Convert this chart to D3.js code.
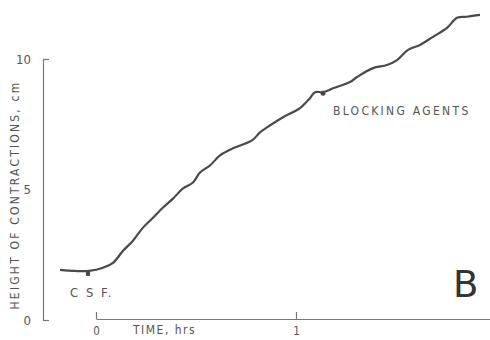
<!DOCTYPE html>
<html><head><meta charset="utf-8">
<script src="https://cdn.jsdelivr.net/npm/d3@7"></script>
<style>
body{margin:0;background:#fff;}
text{font-family:"Liberation Sans Narrow","DejaVu Sans Condensed","Liberation Sans",sans-serif;fill:#555;}
</style></head>
<body><svg id="c" width="490" height="340"></svg>
<script>
// time (hrs)
const times = [-0.18,-0.105,-0.035,0.035,0.085,0.135,0.185,0.235,0.285,0.335,0.385,0.435,0.485,0.52,0.57,0.62,0.685,0.78,0.82,0.855,0.935,1.02,1.07,1.095,1.135,1.185,1.27,1.305,1.385,1.455,1.505,1.56,1.62,1.685,1.755,1.805,1.855,1.92];
// height of contractions (cm)
const heights = [1.92,1.88,1.88,2.0,2.19,2.65,3.04,3.54,3.92,4.31,4.65,5.04,5.27,5.65,5.92,6.31,6.58,6.88,7.19,7.38,7.77,8.12,8.5,8.73,8.73,8.88,9.12,9.31,9.65,9.77,9.96,10.35,10.54,10.85,11.19,11.58,11.62,11.69];
const yTicks = [0,5,10];
const xTicks = [0,1,2];
const markers = [{t:-0.04,label:"C S F."},{t:1.135,label:"BLOCKING AGENTS"}];

const svg = d3.select("#c");
const x = d3.scaleLinear().domain([0,2]).range([96,496]);
const y = d3.scaleLinear().domain([0,10]).range([320,59]);
const ink = "#4a4a4a";

// y axis
const ya = svg.append("g").attr("transform","translate(43,0)")
  .call(d3.axisLeft(y).tickValues(yTicks).tickSizeInner(-6).tickSizeOuter(0).tickPadding(12).tickFormat(d3.format("d")));
ya.select(".domain").attr("stroke","#777").attr("stroke-width",1.2);
ya.selectAll(".tick line").attr("stroke","#777").attr("stroke-width",1.2)
  .filter(d=>d===5).remove();
ya.selectAll(".tick text").attr("font-size",13).style("fill","#555");

// x axis
const xa = svg.append("g").attr("transform","translate(0,319)")
  .call(d3.axisBottom(x).tickValues(xTicks).tickSizeInner(-7).tickSizeOuter(0).tickPadding(8).tickFormat(d3.format("d")));
xa.select(".domain").attr("stroke","#777").attr("stroke-width",1.2);
xa.selectAll(".tick line").attr("stroke","#777").attr("stroke-width",1.2);
xa.selectAll(".tick text").attr("font-size",11.5).style("fill","#555");

// axis titles
svg.append("text").attr("x",133).attr("y",334).attr("font-size",12)
  .attr("letter-spacing",1.5).text("TIME, hrs");
svg.append("text").attr("transform","translate(19,195) rotate(-90)")
  .attr("text-anchor","middle").attr("font-size",12).attr("letter-spacing",2.2)
  .text("HEIGHT OF CONTRACTIONS, cm");

// curve
const data = times.map((t,i)=>({t, v:heights[i]}));
svg.append("path").datum(data)
  .attr("fill","none").attr("stroke",ink).attr("stroke-width",2.2)
  .attr("stroke-linejoin","round")
  .attr("d", d3.line().x(d=>x(d.t)).y(d=>y(d.v)).curve(d3.curveCatmullRom));

// markers
const vAt = t => { const i = d3.bisector(d=>d.t).left(data,t); const a=data[Math.max(i-1,0)], b=data[Math.min(i,data.length-1)]; return a.t===b.t?a.v:a.v+(b.v-a.v)*(t-a.t)/(b.t-a.t); };
svg.append("rect").attr("x",x(markers[0].t)-2).attr("y",y(vAt(markers[0].t))).attr("width",4).attr("height",5).attr("fill",ink);
svg.append("circle").attr("cx",x(markers[1].t)).attr("cy",y(vAt(markers[1].t))+1).attr("r",2.5).attr("fill",ink);

svg.append("text").attr("x",70).attr("y",297).attr("font-size",13).attr("letter-spacing",2).text(markers[0].label);
svg.append("text").attr("x",333).attr("y",115).attr("font-size",12).attr("letter-spacing",2.3).text(markers[1].label);

svg.append("text").attr("x",453).attr("y",297).attr("font-size",37)
  .style("font-family","'DejaVu Sans',sans-serif").style("fill","#333").text("B");
</script></body></html>
